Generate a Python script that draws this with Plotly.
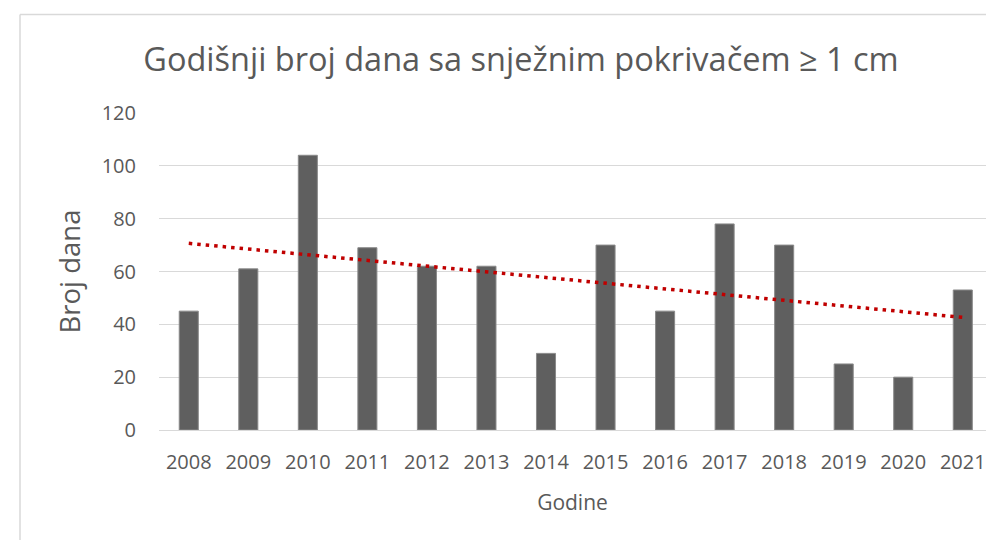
import numpy as np
import plotly.graph_objects as graph

# annual number of days with snow cover >= 1 cm
years = ["2008", "2009", "2010", "2011", "2012", "2013", "2014",
         "2015", "2016", "2017", "2018", "2019", "2020", "2021"]
days = [45, 61, 104, 69, 62, 62, 29, 70, 45, 78, 70, 25, 20, 53]

y_ticks = [0, 20, 40, 60, 80, 100, 120]

# linear trendline, like Excel does it
idx = np.arange(len(days))
slope, intercept = np.polyfit(idx, days, 1)
trend = slope * idx + intercept

W, H = 986, 540
left, top, bottom = 159, 113, 110      # plot area in pixels
text_col = "#595959"
font = "Open Sans"

fig = graph.Figure()
fig.add_trace(graph.Bar(x=years, y=days, width=0.32,
                        marker=dict(color="#5f5f5f", line=dict(color="#8a8a8a", width=1))))
fig.add_trace(graph.Scatter(x=years, y=trend, mode="lines",
                            line=dict(color="#c00000", width=3.5, dash="3.5px,5px")))

# chart area border (top and left edges visible in the crop)
pw = W - left
ph = H - top - bottom
bx = (20 - left) / pw
by = (H - bottom - 14.5) / ph
fig.add_shape(type="line", xref="paper", yref="paper", x0=bx, x1=1.1, y0=by, y1=by,
              line=dict(color="#d9d9d9", width=1.5))
fig.add_shape(type="line", xref="paper", yref="paper", x0=bx, x1=bx, y0=by, y1=-0.5,
              line=dict(color="#d9d9d9", width=1.5))

fig.update_layout(
    width=W, height=H, autosize=False,
    margin=dict(l=left, r=0, t=top, b=bottom),
    paper_bgcolor="white", plot_bgcolor="white",
    showlegend=False,
    font=dict(family=font, color=text_col),
    title=dict(text="Godišnji broj dana sa snježnim pokrivačem ≥ 1 cm",
               x=521 / W, xanchor="center", y=1 - 60 / H, yanchor="middle",
               font=dict(size=32.5, color=text_col)),
    xaxis=dict(type="category", range=[-0.5, 13.39], showgrid=False,
               showline=False, ticks="", tickfont=dict(size=20, color=text_col),
               ticklabelstandoff=18,
               title=dict(text="Godine", font=dict(size=21, color=text_col), standoff=21)),
    yaxis=dict(range=[0, 120], tickvals=y_ticks, showgrid=True, gridcolor="#d9d9d9",
               gridwidth=1.3, zeroline=True, zerolinecolor="#d9d9d9", zerolinewidth=1.3,
               showline=False, ticks="", tickfont=dict(size=20, color=text_col),
               ticklabelstandoff=22,
               title=dict(text="Broj dana", font=dict(size=27.5, color=text_col), standoff=13)),
)

# no page margin, so the figure sits at the window's top-left corner
fig.write_html("out.html", config={"displayModeBar": False},
               post_script="document.body.style.margin='0';document.body.style.overflow='hidden';")
